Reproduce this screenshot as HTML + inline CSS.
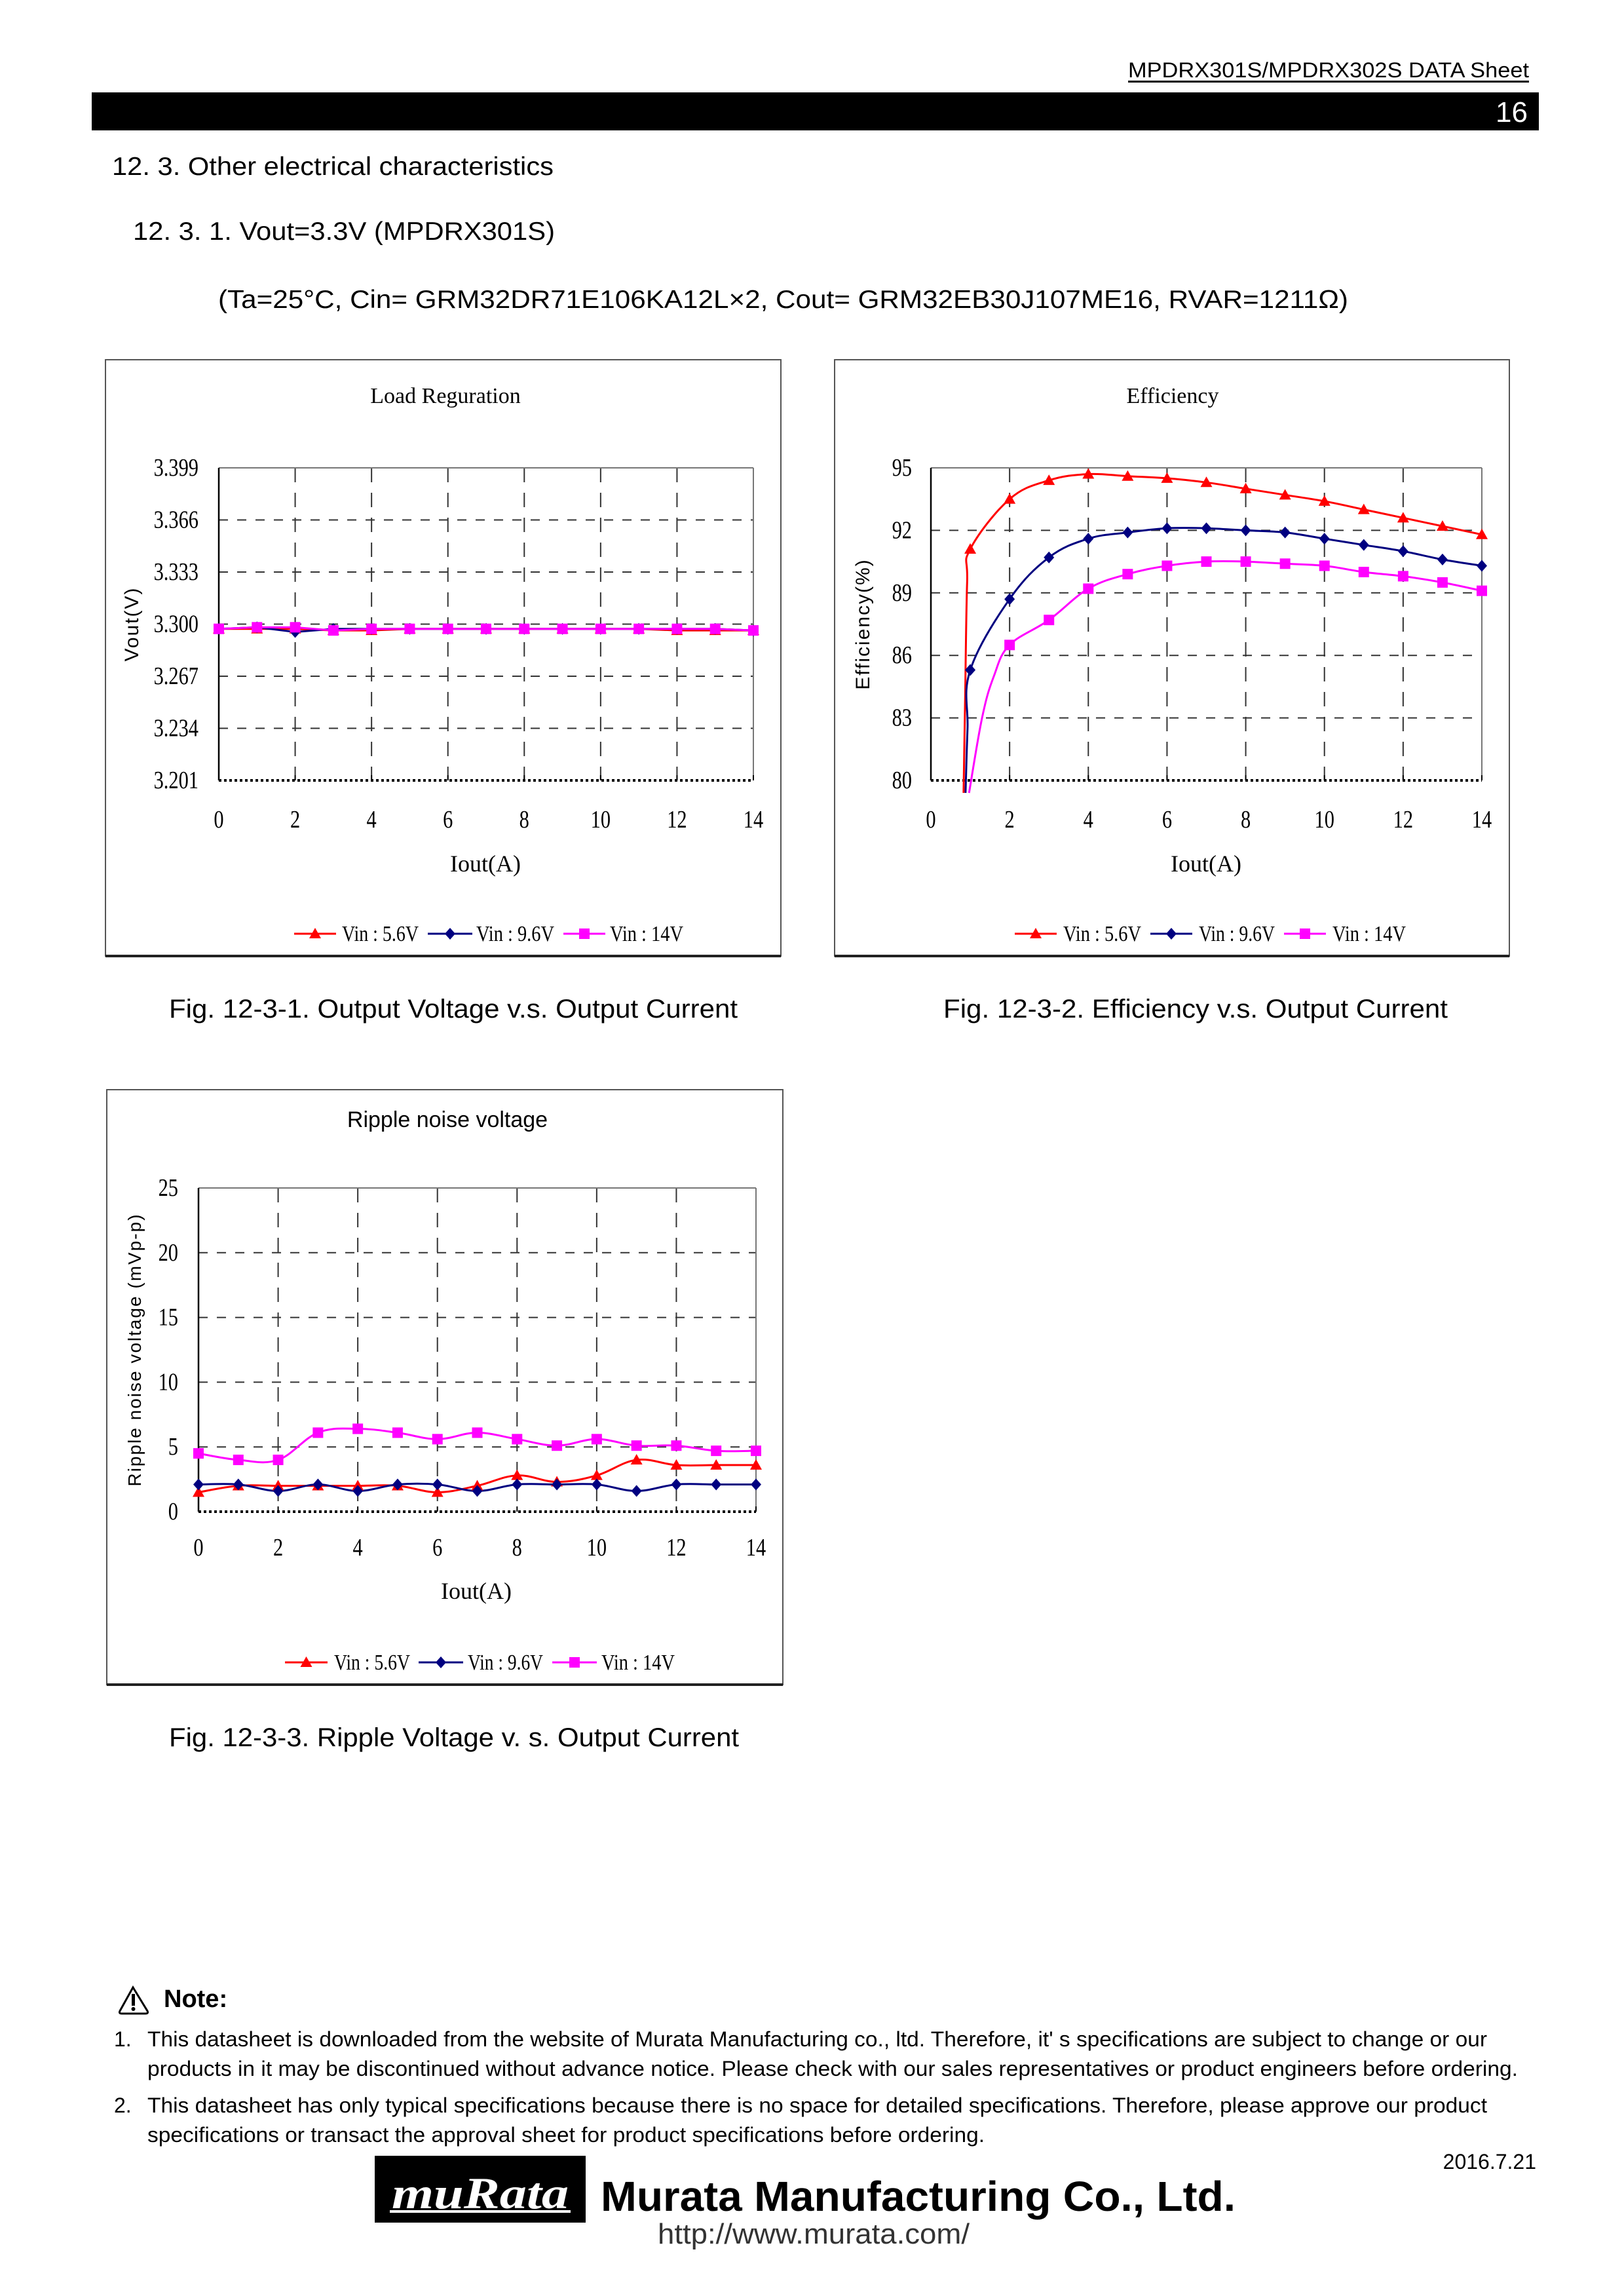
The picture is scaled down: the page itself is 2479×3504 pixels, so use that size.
<!DOCTYPE html>
<html><head><meta charset="utf-8">
<style>
html,body{margin:0;padding:0;background:#fff;}
svg{display:block;}
.sans{font-family:"Liberation Sans",Arial,sans-serif;}
.serif{font-family:"Liberation Serif","Times New Roman",serif;}
</style></head>
<body>
<svg id="pg" xmlns="http://www.w3.org/2000/svg" width="2479" height="3504" viewBox="0 0 2479 3504">
<rect width="2479" height="3504" fill="#fff"/>
<!-- header -->
<text class="sans" x="1722" y="118" font-size="32" textLength="612" lengthAdjust="spacingAndGlyphs">MPDRX301S/MPDRX302S  DATA  Sheet</text>
<rect x="1722" y="123" width="612" height="3" fill="#000"/>
<rect x="140" y="141" width="2209" height="58" fill="#000"/>
<text class="sans" x="2332" y="186" font-size="44" fill="#fff" text-anchor="end">16</text>
<text class="sans" x="171" y="267" font-size="39" textLength="674" lengthAdjust="spacingAndGlyphs">12. 3. Other electrical characteristics</text>
<text class="sans" x="203" y="366" font-size="39" textLength="644" lengthAdjust="spacingAndGlyphs">12. 3. 1. Vout=3.3V (MPDRX301S)</text>
<text class="sans" x="333" y="470" font-size="39" textLength="1725" lengthAdjust="spacingAndGlyphs">(Ta=25°C, Cin= GRM32DR71E106KA12L×2, Cout= GRM32EB30J107ME16, RVAR=1211Ω)</text>

<!-- captions -->
<text class="sans" x="258" y="1553" font-size="40" textLength="868" lengthAdjust="spacingAndGlyphs">Fig.  12-3-1. Output Voltage v.s. Output Current</text>
<text class="sans" x="1440" y="1553" font-size="40" textLength="770" lengthAdjust="spacingAndGlyphs">Fig.  12-3-2. Efficiency v.s. Output Current</text>
<text class="sans" x="258" y="2665" font-size="40" textLength="870" lengthAdjust="spacingAndGlyphs">Fig.  12-3-3. Ripple Voltage v. s. Output Current</text>

<g id="charts"></g>

<!-- note -->
<g transform="translate(181,3031)">
<path d="M22 2 L44 38 Q46 42 41 42 L5 42 Q0 42 2 38 Z" fill="none" stroke="#000" stroke-width="3"/>
<rect x="20" y="12" width="5" height="18" fill="#000"/><circle cx="22.5" cy="35" r="3" fill="#000"/>
</g>
<text class="sans" x="250" y="3063" font-size="38" font-weight="bold">Note:</text>
<text class="sans" x="174" y="3123" font-size="32">1.</text>
<text class="sans" x="225" y="3123" font-size="32" textLength="2045" lengthAdjust="spacingAndGlyphs">This datasheet is downloaded from the website of Murata Manufacturing co., ltd. Therefore, it' s specifications are subject to change or our</text>
<text class="sans" x="225" y="3168" font-size="32" textLength="2092" lengthAdjust="spacingAndGlyphs">products in it may be discontinued without advance notice. Please check with our sales representatives or product engineers before ordering.</text>
<text class="sans" x="174" y="3224" font-size="32">2.</text>
<text class="sans" x="225" y="3224" font-size="32" textLength="2045" lengthAdjust="spacingAndGlyphs">This datasheet has only typical specifications because there is no space for detailed specifications. Therefore, please approve our product</text>
<text class="sans" x="225" y="3269" font-size="32" textLength="1278" lengthAdjust="spacingAndGlyphs">specifications or transact the approval sheet for product specifications before ordering.</text>
<text class="sans" x="2345" y="3310" font-size="32" text-anchor="end">2016.7.21</text>
<!-- logo -->
<rect x="572" y="3290" width="322" height="102" fill="#000"/>
<text class="serif" x="733" y="3370" font-size="68" font-style="italic" font-weight="bold" fill="#fff" text-anchor="middle" textLength="270" lengthAdjust="spacingAndGlyphs">muRata</text>
<rect x="595" y="3373" width="276" height="4" fill="#fff"/>
<text class="sans" x="917" y="3374" font-size="64" font-weight="bold" textLength="969" lengthAdjust="spacingAndGlyphs">Murata Manufacturing Co., Ltd.</text>
<text class="sans" x="1004" y="3424" font-size="44" fill="#333" textLength="476" lengthAdjust="spacingAndGlyphs">http://www.murata.com/</text>
</svg>
<script>
(function(){
var NS="http://www.w3.org/2000/svg";
var root=document.getElementById("charts");
function el(tag,attrs,txt,parent){var e=document.createElementNS(NS,tag);for(var k in attrs)e.setAttribute(k,attrs[k]);if(txt!=null)e.textContent=txt;(parent||root).appendChild(e);return e;}
function marker(kind,x,y,g){
 if(kind==0){el("polygon",{points:(x)+","+(y-9)+" "+(x+9)+","+(y+7)+" "+(x-9)+","+(y+7),fill:"#ff0000"},null,g);}
 else if(kind==1){el("polygon",{points:x+","+(y-9)+" "+(x+8)+","+y+" "+x+","+(y+9)+" "+(x-8)+","+y,fill:"#000080"},null,g);}
 else {el("rect",{x:x-8,y:y-8,width:16,height:16,fill:"#ff00ff"},null,g);}
}
var cols=["#ff0000","#000080","#ff00ff"];
function smooth(pts){
 if(pts.length<2)return "";
 var d="M"+pts[0][0]+","+pts[0][1];
 for(var i=0;i<pts.length-1;i++){
  var p0=pts[i-1]||pts[i],p1=pts[i],p2=pts[i+1],p3=pts[i+2]||p2;
  var t=0.18;
  var c1=[p1[0]+(p2[0]-p0[0])*t,p1[1]+(p2[1]-p0[1])*t];
  var c2=[p2[0]-(p3[0]-p1[0])*t,p2[1]-(p3[1]-p1[1])*t];
  d+=" C"+c1[0].toFixed(1)+","+c1[1].toFixed(1)+" "+c2[0].toFixed(1)+","+c2[1].toFixed(1)+" "+p2[0].toFixed(1)+","+p2[1].toFixed(1);
 }
 return d;
}
function chart(c){
 var g=el("g",{});
 el("rect",{x:c.fx,y:c.fy,width:c.fw,height:c.fh,fill:"#fff",stroke:"#555","stroke-width":2},null,g);
 el("line",{x1:c.fx,y1:c.fy+c.fh,x2:c.fx+c.fw,y2:c.fy+c.fh,stroke:"#222","stroke-width":4},null,g);
 var X=function(v){return c.x0+(v-c.xmin)/(c.xmax-c.xmin)*(c.x1-c.x0);};
 var Y=function(v){return c.y1-(v-c.ymin)/(c.ymax-c.ymin)*(c.y1-c.y0);};
 for(var i=1;i<c.yt.length-1;i++){var yy=Y(c.yt[i]);el("line",{x1:c.x0,y1:yy,x2:c.x1,y2:yy,stroke:"#333","stroke-width":2,"stroke-dasharray":"14,14"},null,g);}
 for(var v=2;v<14;v+=2){var xx=X(v);el("line",{x1:xx,y1:c.y0,x2:xx,y2:c.y1,stroke:"#333","stroke-width":2,"stroke-dasharray":"22,16"},null,g);}
 el("line",{x1:c.x0,y1:c.y0,x2:c.x1,y2:c.y0,stroke:"#777","stroke-width":2},null,g);
 el("line",{x1:c.x1,y1:c.y0,x2:c.x1,y2:c.y1,stroke:"#777","stroke-width":2},null,g);
 el("line",{x1:c.x0,y1:c.y0,x2:c.x0,y2:c.y1,stroke:"#000","stroke-width":2.5},null,g);
 el("line",{x1:c.x0,y1:c.y1,x2:c.x1,y2:c.y1,stroke:"#000","stroke-width":4,"stroke-dasharray":"4,4"},null,g);
 for(var v=0;v<=14;v+=2){var xx=X(v);el("line",{x1:xx,y1:c.y1-8,x2:xx,y2:c.y1,stroke:"#000","stroke-width":2},null,g);
   el("text",{x:xx,y:c.tb,"font-size":38,"text-anchor":"middle","class":"serif",transform:"translate("+xx+","+c.tb+") scale(0.8,1) translate("+(-xx)+","+(-c.tb)+")"},String(v),g);}
 for(var i=0;i<c.yt.length;i++){var yy=Y(c.yt[i]);
   el("text",{x:c.ylx,y:yy+12,"font-size":38,"text-anchor":"end","class":"serif",transform:"translate("+c.ylx+","+(yy+12)+") scale(0.8,1) translate("+(-c.ylx)+","+(-(yy+12))+")"},c.ytl[i],g);}
 el("text",{x:c.tx,y:c.ty,"font-size":34,"text-anchor":"middle","class":c.tcls},c.title,g);
 el("text",{x:c.ax,y:c.ay,"font-size":36,"text-anchor":"middle","class":"serif"},"Iout(A)",g);
 var cy=(c.y0+c.y1)/2;
 el("text",{x:0,y:0,"font-size":c.ylfs,"text-anchor":"middle","class":"sans",transform:"translate("+c.ylabx+","+cy+") rotate(-90)","letter-spacing":c.ylls||"0"},c.ylab,g);
 var cid="cl"+c.id;
 var cp=el("clipPath",{id:cid},null,g);el("rect",{x:c.x0,y:c.y0-20,width:c.x1-c.x0+20,height:c.y1-c.y0+40},null,cp);
 var sg=el("g",{"clip-path":"url(#"+cid+")"},null,g);
 for(var s=0;s<3;s++){
   var d=c.data[s];var pts=[];
   if(c.pre&&c.pre[s])c.pre[s].forEach(function(p){pts.push([X(p[0]),Y(p[1])]);});
   for(var i=0;i<d.length;i++){if(d[i]!=null)pts.push([X(i),Y(d[i])]);}
   el("path",{d:c.smooth?smooth(pts):("M"+pts.map(function(p){return p[0]+","+p[1];}).join(" L")),fill:"none",stroke:cols[s],"stroke-width":3},null,sg);
 }
 for(var s=0;s<3;s++){var d=c.data[s];for(var i=0;i<d.length;i++){if(d[i]!=null&&d[i]>=c.ymin)marker(s,X(i),Y(d[i]),g);}}
 var labs=["Vin : 5.6V","Vin : 9.6V","Vin : 14V"];
 for(var s=0;s<3;s++){var L=c.leg[s];
   el("line",{x1:L[0],y1:c.lb-11,x2:L[1],y2:c.lb-11,stroke:cols[s],"stroke-width":3},null,g);
   marker(s,(L[0]+L[1])/2,c.lb-11,g);
   el("text",{x:L[2],y:c.lb,"font-size":34,"class":"serif",textLength:L[3]-L[2],lengthAdjust:"spacingAndGlyphs"},labs[s],g);}
}
chart({id:1,fx:161,fy:549,fw:1031,fh:910,x0:334,x1:1150,y0:714,y1:1191,xmin:0,xmax:14,ymin:3.201,ymax:3.399,
 yt:[3.201,3.234,3.267,3.300,3.333,3.366,3.399],ytl:["3.201","3.234","3.267","3.300","3.333","3.366","3.399"],ylx:303,tb:1263,
 title:"Load   Reguration",tcls:"serif",tx:680,ty:615,ax:741,ay:1330,ylab:"Vout(V)",ylabx:211,ylfs:30,ylls:"2",lb:1436,smooth:false,
 data:[[3.297,3.297,3.297,3.296,3.296,3.297,3.297,3.297,3.297,3.297,3.297,3.297,3.296,3.296,3.296],
       [3.297,3.298,3.295,3.297,3.297,3.297,3.297,3.297,3.297,3.297,3.297,3.297,3.297,3.297,3.296],
       [3.297,3.298,3.298,3.296,3.297,3.297,3.297,3.297,3.297,3.297,3.297,3.297,3.297,3.297,3.296]],
 leg:[[449,513,522,639],[653,721,727,846],[860,924,931,1043]]});
chart({id:2,fx:1274,fy:549,fw:1030,fh:910,x0:1421,x1:2262,y0:714,y1:1191,xmin:0,xmax:14,ymin:80,ymax:95,
 yt:[80,83,86,89,92,95],ytl:["80","83","86","89","92","95"],ylx:1392,tb:1263,
 title:"Efficiency",tcls:"serif",tx:1790,ty:615,ax:1841,ay:1330,ylab:"Efficiency(%)",ylabx:1327,ylfs:30,ylls:"2",lb:1436,smooth:true,
 pre:[[[0.83,79.4],[0.87,84],[0.92,89.5]],[[0.88,79.4],[0.93,82.5]],[[0.97,79.4],[1.3,83],[1.6,85]]],
 data:[[null,91.1,93.5,94.4,94.7,94.6,94.5,94.3,94.0,93.7,93.4,93.0,92.6,92.2,91.8],
       [null,85.3,88.7,90.7,91.6,91.9,92.1,92.1,92.0,91.9,91.6,91.3,91.0,90.6,90.3],
       [null,null,86.5,87.7,89.2,89.9,90.3,90.5,90.5,90.4,90.3,90.0,89.8,89.5,89.1]],
 leg:[[1549,1613,1623,1742],[1756,1820,1830,1946],[1960,2024,2034,2146]]});
chart({id:3,fx:163,fy:1663,fw:1032,fh:908,x0:303,x1:1154,y0:1813,y1:2307,xmin:0,xmax:14,ymin:0,ymax:25,
 yt:[0,5,10,15,20,25],ytl:["0","5","10","15","20","25"],ylx:272,tb:2374,
 title:"Ripple noise voltage",tcls:"sans",tx:683,ty:1720,ax:727,ay:2440,ylab:"Ripple noise voltage (mVp-p)",ylabx:215,ylfs:28,ylls:"2",lb:2548,smooth:true,
 data:[[1.5,2.0,2.0,2.0,2.0,2.0,1.5,2.0,2.8,2.3,2.8,4.0,3.6,3.6,3.6],
       [2.1,2.1,1.6,2.1,1.6,2.1,2.1,1.6,2.1,2.1,2.1,1.6,2.1,2.1,2.1],
       [4.5,4.0,4.0,6.1,6.4,6.1,5.6,6.1,5.6,5.1,5.6,5.1,5.1,4.7,4.7]],
 leg:[[435,500,510,626],[639,707,714,829],[843,911,918,1030]]});
})();
</script>
</body></html>
